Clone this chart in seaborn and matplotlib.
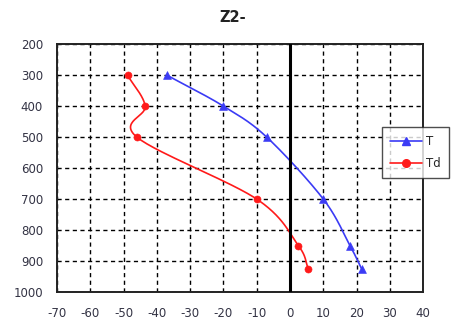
import numpy as np
import pandas as pd
import matplotlib
matplotlib.use("Agg")
import matplotlib.pyplot as plt
import seaborn as sns

# Sounding profile: pressure levels (hPa) with temperature and dew point (deg C)
t_pressure = [300, 400, 500, 700, 850, 925]
t_values = [-37, -20, -7, 10, 18, 21.5]
td_pressure = [300, 400, 500, 700, 850, 925]
td_values = [-48.8, -43.5, -46, -10, 2.5, 5.5]

x_ticks = [-70, -60, -50, -40, -30, -20, -10, 0, 10, 20, 30, 40]
y_ticks = [200, 300, 400, 500, 600, 700, 800, 900, 1000]


def smooth(xs, ys, sx, sy, n=30):
    """Catmull-Rom curve through the points, computed in screen-like scaling."""
    p = np.column_stack([np.asarray(xs, float) * sx, np.asarray(ys, float) * sy])
    p = np.vstack([p[0] * 2 - p[1], p, p[-1] * 2 - p[-2]])
    out = []
    for i in range(1, len(p) - 2):
        p0, p1, p2, p3 = p[i - 1], p[i], p[i + 1], p[i + 2]
        t = np.linspace(0, 1, n, endpoint=False)[:, None]
        seg = 0.5 * ((2 * p1) + (-p0 + p2) * t + (2 * p0 - 5 * p1 + 4 * p2 - p3) * t ** 2
                     + (-p0 + 3 * p1 - 3 * p2 + p3) * t ** 3)
        out.append(seg)
    out.append(p[-2][None, :])
    c = np.vstack(out)
    return c[:, 0] / sx, c[:, 1] / sy


sns.set_theme(style="white")
plt.rcParams["font.family"] = ["DejaVu Sans"]

fig = plt.figure(figsize=(4.59, 3.27), dpi=100)
ax = fig.add_axes([0.124, 0.107, 0.798, 0.758])

sx, sy = 366 / 110, 248 / 800
blue = "#3b3bf5"
red = "#ff1a1a"

tx, ty = smooth(t_values, t_pressure, sx, sy)
dx, dy = smooth(td_values, td_pressure, sx, sy)
curve_t = pd.DataFrame({"x": tx, "p": ty})
curve_td = pd.DataFrame({"x": dx, "p": dy})

sns.lineplot(data=curve_t, x="x", y="p", sort=False, estimator=None, color=blue, lw=1.2, ax=ax)
sns.lineplot(data=curve_td, x="x", y="p", sort=False, estimator=None, color=red, lw=1.2, ax=ax)
sns.scatterplot(x=t_values, y=t_pressure, marker="^", color=blue, s=32, edgecolor=blue, ax=ax, zorder=4)
sns.scatterplot(x=td_values, y=td_pressure, marker="o", color=red, s=26, edgecolor=red, ax=ax, zorder=4)

ax.set_xlim(-70, 40)
ax.set_ylim(1000, 200)
ax.set_xticks(x_ticks)
ax.set_yticks(y_ticks)
ax.set_xticklabels([str(v) for v in x_ticks])
ax.set_yticklabels([str(v) for v in y_ticks])
ax.tick_params(axis="both", length=0, labelsize=8.5, colors="#333344")
ax.tick_params(axis="x", pad=11)
ax.tick_params(axis="y", pad=10)
ax.set_xlabel("")
ax.set_ylabel("")

ax.grid(True, color="black", linestyle=(0, (3, 2.5)), linewidth=1.0)
ax.axvline(0, color="black", lw=2.2, zorder=3)
for s in ax.spines.values():
    s.set_color("#222222")
    s.set_linewidth(1.4)

fig.suptitle("Z2-", x=0.508, y=0.97, fontsize=10.5, fontweight="bold", color="#222222")

handles = [
    plt.Line2D([], [], color=blue, marker="^", markersize=5.5, lw=1.2),
    plt.Line2D([], [], color=red, marker="o", markersize=5.5, lw=1.2),
]
leg = fig.legend(handles, ["T", "Td"], loc="upper left", bbox_to_anchor=(382 / 459, 1 - 127 / 327),
                 frameon=True, fancybox=False, fontsize=8.5, handlelength=2.7,
                 borderpad=0.7, labelspacing=0.75, handletextpad=0.35, borderaxespad=0)
leg.get_frame().set_edgecolor("#222222")
leg.get_frame().set_linewidth(1.0)
leg.set_zorder(10)

fig.savefig("out.png", dpi=100)
